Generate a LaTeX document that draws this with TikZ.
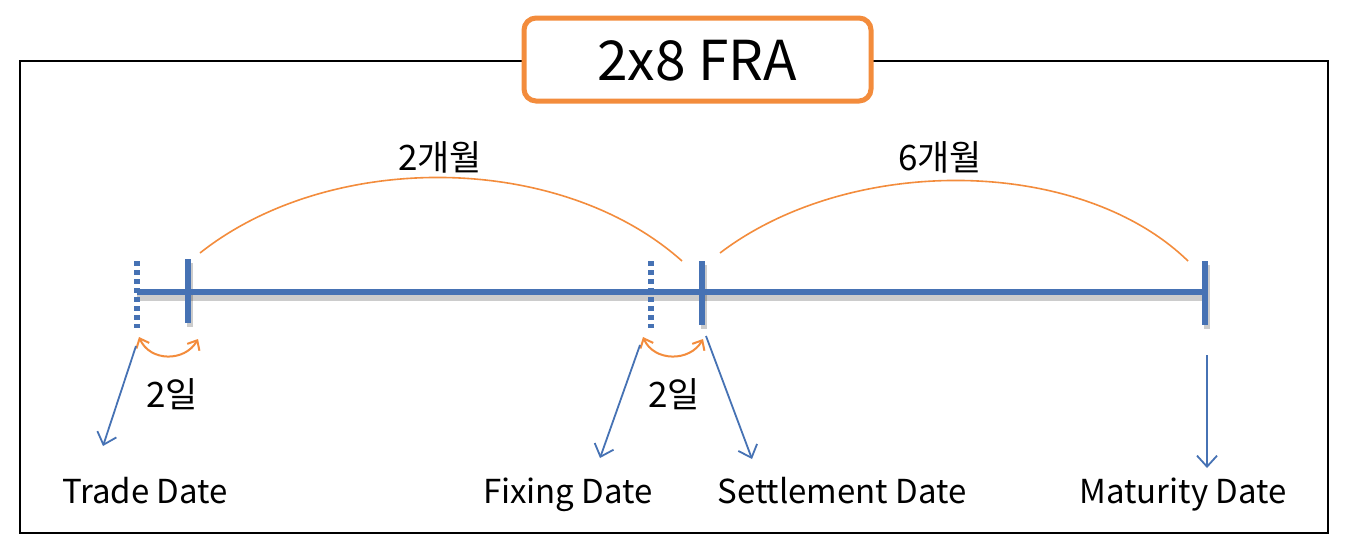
\documentclass[tikz,border=0pt]{standalone}
\usepackage{fontspec}
\setmainfont{Noto Sans CJK KR}
\usetikzlibrary{arrows.meta}
\definecolor{tlblue}{RGB}{70,114,180}
\definecolor{tlorange}{RGB}{243,140,60}
\tikzset{
  axis/.style={line width=6pt, tlblue},
  shadowline/.style={line width=8pt, black, opacity=0.2},
  tick/.style={line width=6pt, tlblue},
  dottick/.style={line width=6pt, tlblue, dash pattern=on 5pt off 4pt},
  span/.style={tlorange, line width=1.6pt},
  dayarrow/.style={tlorange, line width=2pt, {Straight Barb[length=8pt,width=14pt]}-{Straight Barb[length=8pt,width=14pt]}},
  pointer/.style={tlblue, line width=1.8pt, -{Straight Barb[length=11pt,width=20pt]}},
  lbl/.style={font=\fontsize{33}{38}\selectfont, inner sep=0pt, anchor=base},
  klbl/.style={font=\fontsize{35}{40}\selectfont, inner sep=0pt, anchor=base},
}
\begin{document}
\begin{tikzpicture}[x=1pt,y=-1pt]
\useasboundingbox (0,0) rectangle (1348,552);
\fill[white] (0,0) rectangle (1348,552);
% frame
\draw[line width=2pt] (20,61) rectangle (1328,533);
\node[draw=tlorange, line width=5pt, rounded corners=12pt, fill=white, minimum width=347pt, minimum height=83pt, inner sep=0pt] (title) at (697.5,59.5) {};
\node[font=\fontsize{55}{60}\selectfont, inner sep=0pt, anchor=base] (titletext) at (697,80) {2x8 FRA};
% coordinates
\coordinate (t0) at (137,292);
\coordinate (t1) at (188,292);
\coordinate (f0) at (651,292);
\coordinate (s1) at (702,292);
\coordinate (m1) at (1205,292);
% shadows
\draw[shadowline] (137,297) -- (1205,297);
\draw[shadowline, line width=6pt] (190,263) -- (190,327);
\draw[shadowline, line width=6pt] (704,265) -- (704,329);
\draw[shadowline, line width=6pt] (1207,265) -- (1207,329);
% axis
\draw[axis] (t0) -- (m1);
\draw[dottick] (137,261) -- (137,328);
\draw[dottick] (651,261) -- (651,328);
\draw[tick] (188,259) -- (188,323);
\draw[tick] (702,261) -- (702,325);
\draw[tick] (1205,261) -- (1205,325);
% spans
\coordinate (a1) at (200,253);
\coordinate (a2) at (682,261);
\coordinate (b1) at (720,253);
\coordinate (b2) at (1188,261);
\draw[span] (a1) .. controls (330,150) and (560,152) .. (a2);
\draw[span] (b1) .. controls (850,154) and (1080,156) .. (b2);
\node[klbl] (m2) at (440,170) {2개월};
\node[klbl] (m6) at (940,170) {6개월};
% day arrows
\coordinate (d1a) at (139,337);
\coordinate (d1b) at (198,339);
\coordinate (d2a) at (643,337);
\coordinate (d2b) at (703,339);
\draw[dayarrow] (d1a) .. controls (150,362) and (185,362) .. (d1b);
\draw[dayarrow] (d2a) .. controls (654,362) and (690,362) .. (d2b);
\node[klbl] (day1) at (172,407) {2일};
\node[klbl] (day2) at (674,407) {2일};
% labels
\node[lbl] (trade) at (145,503) {Trade Date};
\node[lbl] (fixing) at (568,503) {Fixing Date};
\node[lbl] (settle) at (842,503) {Settlement Date};
\node[lbl] (mat) at (1183,503) {Maturity Date};
% pointers
\coordinate (p1s) at (136,346);
\coordinate (p1e) at (103,446);
\coordinate (p2s) at (640,345);
\coordinate (p2e) at (600,458);
\coordinate (p3s) at (706,336);
\coordinate (p3e) at (752,459);
\coordinate (p4s) at (1207,355);
\coordinate (p4e) at (1207,468);
\draw[pointer] (p1s) -- (p1e);
\draw[pointer] (p2s) -- (p2e);
\draw[pointer] (p3s) -- (p3e);
\draw[pointer] (p4s) -- (p4e);
\end{tikzpicture}
\end{document}
